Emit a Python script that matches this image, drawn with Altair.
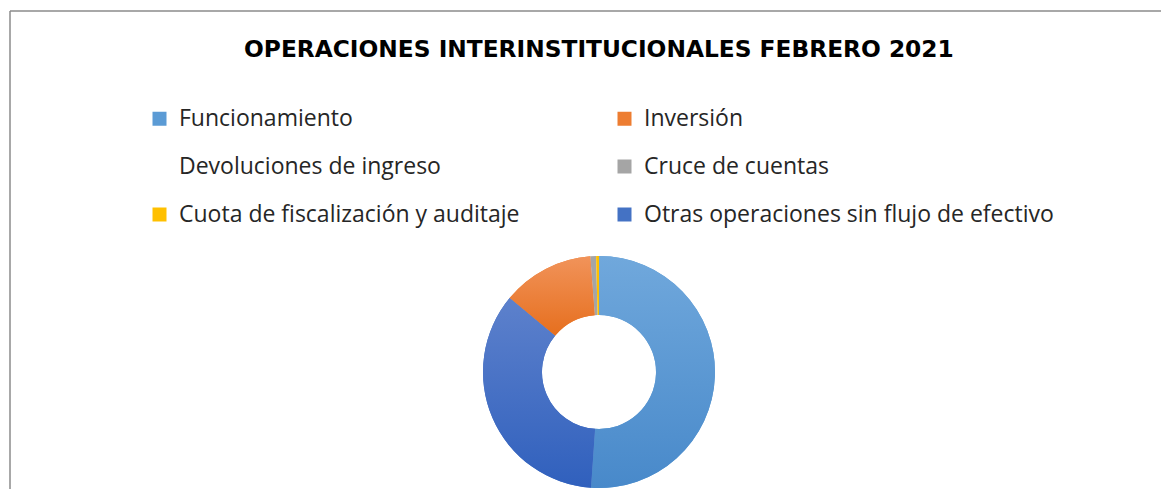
import altair as alt
import pandas as pd

categories = [
    "Funcionamiento",
    "Inversión",
    "Devoluciones de ingreso",
    "Cruce de cuentas",
    "Cuota de fiscalización y auditaje",
    "Otras operaciones sin flujo de efectivo",
]
values = [51.1, 12.8, 0.0, 0.8, 0.4, 34.9]
slice_order = [1, 3, 4, 5, 6, 2]
colors = ["#5B9BD5", "#ED7D31", "#FFFFFF", "#A5A5A5", "#FFC000", "#4472C4"]
# vertical gradient (top, bottom) for the larger slices
gradient_top = {"Funcionamiento": "#70A8DC", "Inversión": "#F1935A",
                "Otras operaciones sin flujo de efectivo": "#5D81CC"}
gradient_bottom = {"Funcionamiento": "#4889CA", "Inversión": "#E66F1E",
                   "Otras operaciones sin flujo de efectivo": "#3060BD"}

df = pd.DataFrame({"categoria": categories, "valor": values, "orden": slice_order})

FONT = "Open Sans"
W, H = 1151, 478
R_OUT, R_IN = 116, 57
CX, CY = 589, 361

base = (
    alt.Chart(df)
    .transform_window(end="sum(valor)", sort=[alt.SortField("orden")], frame=[None, 0])
    .transform_calculate(start="datum.end - datum.valor")
)

theta = alt.Theta("start:Q", scale=alt.Scale(domain=[0, 100]))
theta2 = alt.Theta2("end:Q")

solid = base.mark_arc(outerRadius=R_OUT, innerRadius=R_IN).encode(
    theta=theta,
    theta2=theta2,
    x=alt.value(CX),
    y=alt.value(CY),
    color=alt.Color(
        "categoria:N",
        scale=alt.Scale(domain=categories, range=colors),
        sort=categories,
        legend=alt.Legend(
            title=None,
            orient="none",
            legendX=138,
            legendY=96,
            columns=2,
            direction="horizontal",
            symbolType="square",
            symbolSize=196,
            symbolStrokeWidth=0,
            labelFont=FONT,
            labelFontSize=23,
            labelColor="#262626",
            labelOffset=8,
            labelLimit=700,
            rowPadding=24,
            columnPadding=93,
        ),
    ),
)

layers = [solid]
for cat in gradient_top:
    layers.append(
        base.transform_filter(alt.datum.categoria == cat)
        .mark_arc(
            outerRadius=R_OUT,
            innerRadius=R_IN,
            fill=alt.Gradient(
                gradient="linear",
                stops=[
                    alt.GradientStop(color=gradient_top[cat], offset=0),
                    alt.GradientStop(color=gradient_bottom[cat], offset=1),
                ],
                x1=0, y1=0, x2=0, y2=1,
            ),
        )
        .encode(theta=theta, theta2=theta2, x=alt.value(CX), y=alt.value(CY))
    )

chart = (
    alt.layer(*layers)
    .properties(
        width=W,
        height=H,
        title=alt.TitleParams(
            "OPERACIONES INTERINSTITUCIONALES FEBRERO 2021",
            font="DejaVu Sans",
            fontSize=23.3,
            fontWeight="bold",
            color="#000000",
            anchor="start",
            dx=234,
            offset=-51,
        ),
    )
    .configure_view(stroke="#8c8c8c", strokeWidth=1.5, strokeDash=[W, H + W, H, 0])
    .properties(padding={"left": 2, "top": 3, "right": 0, "bottom": 0})
)

chart.save("out.html", embed_options={"renderer": "svg", "actions": False})
